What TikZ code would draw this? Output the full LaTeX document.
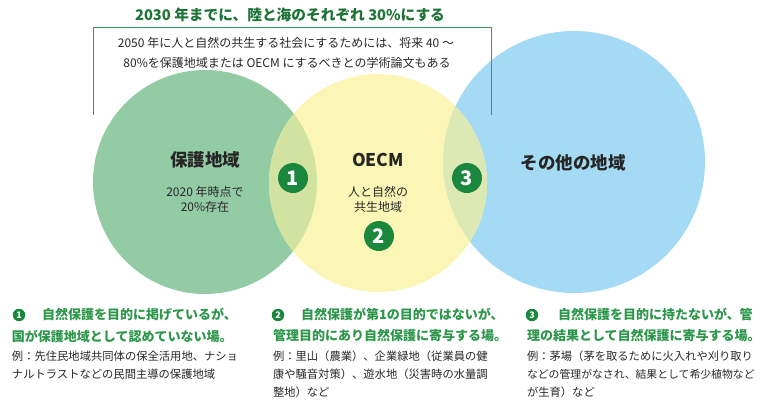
\documentclass[tikz,border=0pt]{standalone}
\usepackage{fontspec}
\setmainfont{Noto Sans CJK JP}
\XeTeXlinebreaklocale "ja"
\XeTeXlinebreakskip=0pt plus 4pt
\definecolor{cgreen}{RGB}{147,203,165}
\definecolor{cyellow}{RGB}{251,246,181}
\definecolor{cblue}{RGB}{165,218,245}
\definecolor{cov1}{RGB}{210,226,160}
\definecolor{cov3}{RGB}{221,233,181}
\definecolor{numgreen}{RGB}{26,135,60}
\definecolor{titlegreen}{RGB}{30,115,55}
\definecolor{headgreen}{RGB}{45,150,75}
\definecolor{boxgreen}{RGB}{70,150,95}
\definecolor{textgray}{RGB}{40,40,40}
\newcommand{\jline}[2]{\makebox[#1][s]{#2}}
\begin{document}
\begin{tikzpicture}[x=1pt,y=-1pt,
  every node/.style={inner sep=0pt, outer sep=0pt},
  titletext/.style={text=titlegreen, font={\fontsize{14.7pt}{16pt}\selectfont\bfseries}},
  subtext/.style={text=textgray, font={\fontsize{12pt}{14pt}\selectfont}},
  boxline/.style={draw=boxgreen, line width=0.8pt},
  biglabel/.style={text=black!85, font={\fontsize{17.5pt}{19pt}\selectfont\bfseries}},
  smalllabel/.style={text=textgray, font={\fontsize{12pt}{14pt}\selectfont}},
  numcirc/.style={circle, fill=numgreen, text=white, minimum size=30pt, font={\fontsize{20pt}{20pt}\selectfont\bfseries}},
  smallnum/.style={circle, fill=numgreen, text=white, minimum size=12.5pt, font={\fontsize{9pt}{9pt}\selectfont\bfseries}},
  headline/.style={anchor=west, text=headgreen, font={\fontsize{13pt}{15pt}\selectfont\bfseries}},
  exline/.style={anchor=west, text=textgray, font={\fontsize{11.3pt}{13pt}\selectfont}}
]
\useasboundingbox (0,0) rectangle (768,413);
% circles
\fill[cgreen] (205,182) circle[radius=112pt];
\fill[cblue] (574,162) circle[radius=131pt];
\fill[cyellow] (378,183) circle[radius=109pt];
\begin{scope}
  \clip (205,182) circle[radius=112pt];
  \fill[cov1] (378,183) circle[radius=109pt];
\end{scope}
\begin{scope}
  \clip (574,162) circle[radius=131pt];
  \fill[cov3] (378,183) circle[radius=109pt];
\end{scope}
% box
\coordinate (bl) at (93,115);
\coordinate (tl) at (93,27);
\coordinate (tr) at (491,27);
\coordinate (br) at (491,115);
\draw[boxline] (bl) -- (tl) -- (tr) -- (br);
% title and subtitle
\node[titletext] (title) at (290,15) {2030 年までに、陸と海のそれぞれ 30\%にする};
\node[subtext] (sub1) at (286,43) {2050 年に人と自然の共生する社会にするためには、将来 40 ～};
\node[subtext] (sub2) at (287,63) {80\%を保護地域または OECM にするべきとの学術論文もある};
% circle labels
\node[biglabel] (lab1) at (205,160) {保護地域};
\node[smalllabel] (lab1a) at (205,192) {2020 年時点で};
\node[smalllabel] (lab1b) at (205,207) {20\%存在};
\node[biglabel] (lab2) at (378,160) {OECM};
\node[smalllabel] (lab2a) at (378,192) {人と自然の};
\node[smalllabel] (lab2b) at (378,207) {共生地域};
\node[biglabel] (lab3) at (573,163) {その他の地域};
% number circles
\node[numcirc] (c1) at (293,178) {1};
\node[numcirc] (c2) at (379,236) {2};
\node[numcirc] (c3) at (467,178) {3};
% column 1
\node[smallnum] (n1) at (19,315) {1};
\node[headline] (h1a) at (42,314) {\jline{202pt}{自然保護を目的に掲げているが、}};
\node[headline] (h1b) at (12,336) {\jline{234pt}{国が保護地域として認めていない場。}};
\node[exline] (e1a) at (12,356) {\jline{233pt}{例：先住民地域共同体の保全活用地、ナショ}};
\node[exline] (e1b) at (12,374) {ナルトラストなどの民間主導の保護地域};
% column 2
\node[smallnum] (n2) at (278,315) {2};
\node[headline] (h2a) at (301,314) {\jline{212pt}{自然保護が第1の目的ではないが、}};
\node[headline] (h2b) at (273,336) {\jline{235pt}{管理目的にあり自然保護に寄与する場。}};
\node[exline] (e2a) at (273,356) {\jline{232pt}{例：里山（農業）、企業緑地（従業員の健}};
\node[exline] (e2b) at (273,374) {\jline{232pt}{康や騒音対策）、遊水地（災害時の水量調}};
\node[exline] (e2c) at (273,392) {整地）など};
% column 3
\node[smallnum] (n3) at (532,315) {3};
\node[headline] (h3a) at (558,314) {\jline{197pt}{自然保護を目的に持たないが、管}};
\node[headline] (h3b) at (527,336) {\jline{234pt}{理の結果として自然保護に寄与する場。}};
\node[exline] (e3a) at (527,356) {\jline{228pt}{例：茅場（茅を取るために火入れや刈り取り}};
\node[exline, font={\fontsize{10.85pt}{13pt}\selectfont}] (e3b) at (527,374) {\jline{228pt}{などの管理がなされ、結果として希少植物など}};
\node[exline] (e3c) at (527,392) {が生育）など};
\end{tikzpicture}
\end{document}
